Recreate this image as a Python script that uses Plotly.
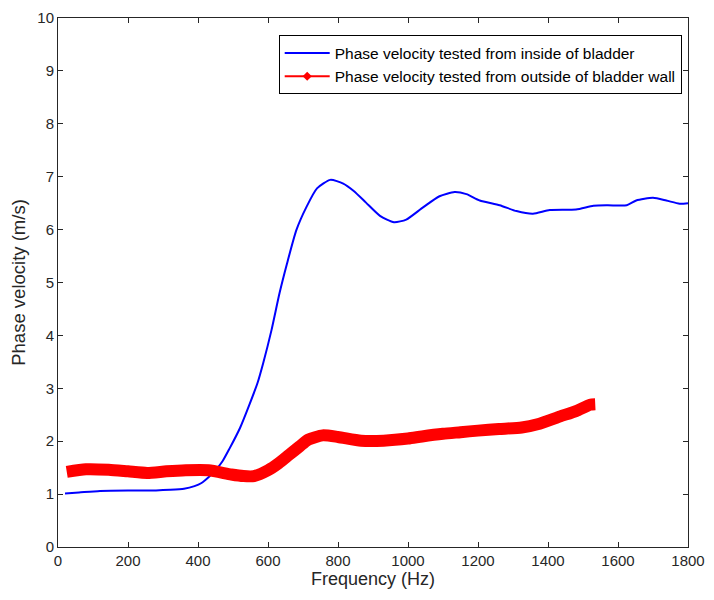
import plotly.graph_objects as go

# Blue: phase velocity tested from inside of bladder
freq_inside = [20, 60, 120, 200, 280, 320, 360, 390, 410, 430, 450, 470, 490, 520, 548,
               570, 586, 610, 633, 654, 681, 710, 740, 778, 815, 845, 880, 920, 960, 995,
               1043, 1090, 1133, 1167, 1205, 1262, 1310, 1357, 1405, 1480, 1530, 1570,
               1625, 1652, 1700, 1738, 1776, 1800]
vel_inside = [1.01, 1.03, 1.06, 1.07, 1.07, 1.08, 1.10, 1.15, 1.21, 1.32, 1.45, 1.62, 1.86,
              2.25, 2.71, 3.10, 3.47, 4.10, 4.80, 5.35, 5.99, 6.43, 6.78, 6.94, 6.87, 6.73,
              6.51, 6.26, 6.14, 6.19, 6.42, 6.63, 6.71, 6.67, 6.55, 6.46, 6.35, 6.30, 6.37,
              6.38, 6.45, 6.46, 6.46, 6.55, 6.60, 6.55, 6.49, 6.50]

# Red: phase velocity tested from outside of bladder wall
freq_outside = [25, 80, 145, 200, 255, 310, 365, 430, 495, 530, 560, 600, 630, 660, 690,
                715, 756, 800, 866, 930, 1000, 1040, 1100, 1150, 1200, 1260, 1325, 1370,
                1435, 1480, 1520, 1535]
vel_outside = [1.42, 1.47, 1.46, 1.43, 1.40, 1.43, 1.45, 1.45, 1.37, 1.34, 1.34, 1.45, 1.58,
               1.74, 1.90, 2.03, 2.11, 2.08, 2.01, 2.01, 2.05, 2.09, 2.14, 2.17, 2.20, 2.23,
               2.26, 2.32, 2.47, 2.57, 2.69, 2.70]

x_ticks = [0, 200, 400, 600, 800, 1000, 1200, 1400, 1600, 1800]
y_ticks = [0, 1, 2, 3, 4, 5, 6, 7, 8, 9, 10]

name_in = "Phase velocity tested from inside of bladder"
name_out = "Phase velocity tested from outside of bladder wall"

FONT = "Liberation Sans, Arial, sans-serif"
INK = "#262626"

fig = go.Figure()
fig.add_trace(go.Scatter(x=freq_inside, y=vel_inside, mode="lines", name=name_in,
                         line=dict(color="#0000FF", width=2, shape="spline", smoothing=0.6)))
fig.add_trace(go.Scatter(x=freq_outside, y=vel_outside, mode="lines", name=name_out,
                         line=dict(color="#FF0000", width=12, shape="spline", smoothing=0.6),
                         showlegend=False, legendgroup="out"))
# legend-only entry for the red series (thin line with marker, as in the original)
fig.add_trace(go.Scatter(x=[None], y=[None], mode="lines+markers", name=name_out,
                         line=dict(color="#FF0000", width=2),
                         marker=dict(color="#FF0000", size=7, symbol="diamond"),
                         legendgroup="out"))

axis_common = dict(showline=True, linecolor=INK, linewidth=1, mirror="ticks",
                   ticks="inside", ticklen=5, tickwidth=1, tickcolor=INK,
                   showgrid=False, zeroline=False, automargin=False,
                   tickfont=dict(family=FONT, size=15, color=INK))

fig.update_xaxes(range=[0, 1800], tickvals=x_ticks,
                 title=dict(text="Frequency (Hz)",
                            font=dict(family=FONT, size=18, color=INK), standoff=4),
                 **axis_common)
fig.update_yaxes(range=[0, 10], tickvals=y_ticks,
                 title=dict(text="Phase velocity (m/s)",
                            font=dict(family=FONT, size=18.5, color=INK), standoff=6),
                 **axis_common)

# page body has an 8px margin, so the figure is 8px smaller and margins compensate
fig.update_layout(
    width=706, height=592,
    margin=dict(l=50, r=26, t=10, b=53),
    plot_bgcolor="white", paper_bgcolor="white",
    font=dict(family=FONT, color=INK),
    legend=dict(x=0.99, y=0.967, xanchor="right", yanchor="top",
                bordercolor="#000000", borderwidth=1, bgcolor="white",
                font=dict(family=FONT, size=15.5, color="#000000"),
                itemwidth=45, tracegroupgap=0),
    showlegend=True,
)

fig.write_html("out.html")
